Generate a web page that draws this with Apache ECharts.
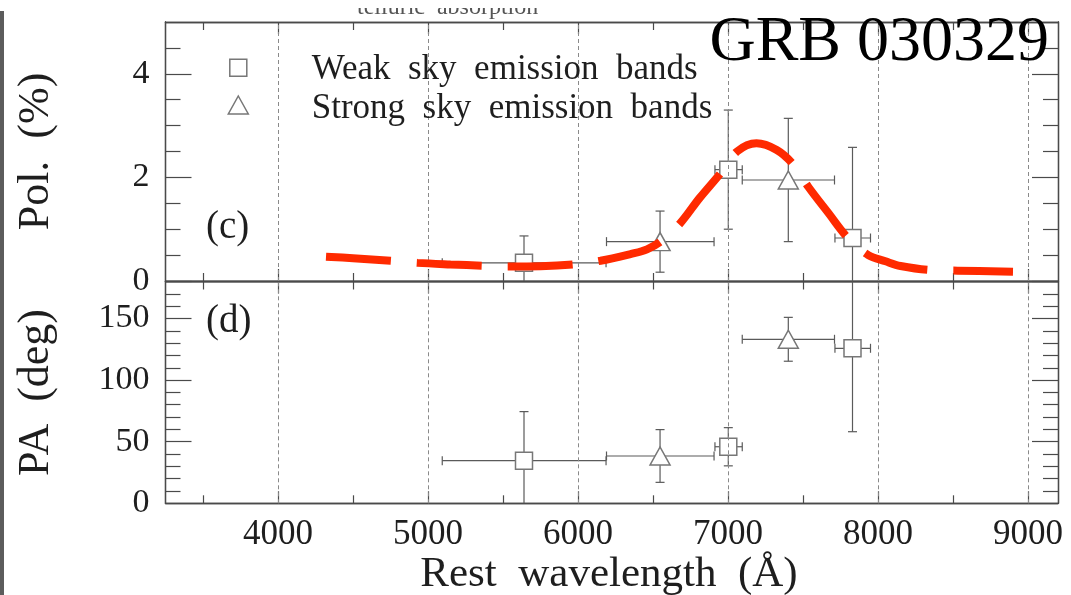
<!DOCTYPE html>
<html>
<head>
<meta charset="utf-8">
<title>GRB 030329 polarization</title>
<script src="https://cdn.jsdelivr.net/npm/echarts@6/dist/echarts.min.js"></script>
<style>
  html, body { margin: 0; padding: 0; background: #fff; }
  #chart { width: 1071px; height: 595px; }
</style>
</head>
<body>
<div id="chart"></div>
<script>
// ---- Data -------------------------------------------------------------
// Tick values
const wlMajorTicks = [4000, 5000, 6000, 7000, 8000, 9000];
const wlMinorTicks = [3500, 4500, 5500, 6500, 7500, 8500];
const polLabelTicks = [0, 2, 4];
const polMinorTicks = [0.5, 1, 1.5, 2.5, 3, 3.5, 4.5];
const paLabelTicks = [0, 50, 100, 150];
const paMajorTicks = [50, 100, 150];
const paMinorTicks = [10, 20, 30, 40, 60, 70, 80, 90, 110, 120, 130, 140, 160, 170];

// Weak sky emission bands (squares)
const weakWl = [5640, 7002, 7830];
const weakWlLo = [5095, 6913, 7713];
const weakWlHi = [6187, 7095, 7950];
const weakPol = [0.35, 2.15, 0.83];
const weakPolErr = [0.52, 1.15, 1.75];
const weakPA = [34.6, 45.9, 125.8];
const weakPAErr = [39.8, 15.5, 67.7];

// Strong sky emission bands (triangles)
const strongWl = [6547, 7402];
const strongWlLo = [6190, 7095];
const strongWlHi = [6907, 7710];
const strongPol = [0.76, 1.95];
const strongPolErr = [0.59, 1.19];
const strongPA = [38.4, 133.1];
const strongPAErr = [21.4, 17.8];

// Model polarization curve
const curveWl = [4320, 4500, 4750, 4930, 5150, 5365, 5535, 5750, 5970, 6150, 6350, 6460, 6560, 6680,
                 6810, 6950, 7060, 7190, 7325, 7435, 7535, 7670, 7800, 7935, 8050, 8150, 8360, 8530, 8900];
const curvePol = [0.47, 0.44, 0.39, 0.35, 0.32, 0.296, 0.28, 0.285, 0.32, 0.39, 0.52, 0.61, 0.78, 1.11,
                  1.60, 2.08, 2.50, 2.66, 2.53, 2.25, 1.82, 1.31, 0.83, 0.50, 0.38, 0.29, 0.21, 0.20, 0.18];

// ---- Styling ----------------------------------------------------------
const SERIF = '"Liberation Serif", "DejaVu Serif", serif';
const AXIS = '#4a4a4a';
const TEXT = '#1e1e1e';
const BAR = '#5a5a5a';
const MARK_EDGE = '#777';
const WL_MIN = 3250, WL_MAX = 9200;

const grids = [
  { left: 165.5, top: 22, width: 892.5, height: 259, outerBoundsMode: 'none' },
  { left: 165.5, top: 281.5, width: 892.5, height: 221.8, outerBoundsMode: 'none' }
];

function xAxis(gridIndex, position, ticks, len, labels) {
  return {
    type: 'value', gridIndex, position, min: WL_MIN, max: WL_MAX,
    axisLine: { show: true, onZero: false, lineStyle: { color: AXIS, width: 1.3 } },
    axisTick: { show: true, inside: true, length: len, customValues: ticks,
                lineStyle: { color: AXIS, width: 1.2 } },
    axisLabel: labels
      ? { show: true, customValues: wlMajorTicks, margin: 14, fontFamily: SERIF, fontSize: 35,
          lineHeight: 35, color: TEXT, formatter: v => String(v) }
      : { show: false },
    splitLine: { show: false }
  };
}

function yAxis(gridIndex, position, min, max, ticks, len, labelValues) {
  return {
    type: 'value', gridIndex, position, min, max,
    axisLine: { show: true, onZero: false, lineStyle: { color: AXIS, width: 1.3 } },
    axisTick: { show: true, inside: true, length: len, customValues: ticks,
                lineStyle: { color: AXIS, width: 1.2 } },
    axisLabel: labelValues
      ? { show: true, customValues: labelValues, margin: 16, fontFamily: SERIF, fontSize: 34,
          color: TEXT, formatter: v => String(v) }
      : { show: false },
    splitLine: { show: false }
  };
}

const xAxes = [];
const yAxes = [];
// panel (c): polarization
xAxes.push(xAxis(0, 'bottom', wlMajorTicks, 12, false));
xAxes.push(xAxis(0, 'bottom', wlMinorTicks, 8, false));
xAxes.push(xAxis(0, 'top', wlMajorTicks, 12, false));
xAxes.push(xAxis(0, 'top', wlMinorTicks, 8, false));
yAxes.push(yAxis(0, 'left', 0, 5, polLabelTicks, 26, polLabelTicks));
yAxes.push(yAxis(0, 'left', 0, 5, polMinorTicks, 15, null));
yAxes.push(yAxis(0, 'right', 0, 5, polLabelTicks, 26, null));
yAxes.push(yAxis(0, 'right', 0, 5, polMinorTicks, 15, null));
// panel (d): position angle
xAxes.push(xAxis(1, 'bottom', wlMajorTicks, 12, true));
xAxes.push(xAxis(1, 'bottom', wlMinorTicks, 8, false));
xAxes.push(xAxis(1, 'top', wlMajorTicks, 12, false));
xAxes.push(xAxis(1, 'top', wlMinorTicks, 8, false));
yAxes.push(yAxis(1, 'left', 0, 180, paMajorTicks, 26, paLabelTicks));
yAxes.push(yAxis(1, 'left', 0, 180, paMinorTicks, 15, null));
yAxes.push(yAxis(1, 'right', 0, 180, paMajorTicks, 26, null));
yAxes.push(yAxis(1, 'right', 0, 180, paMinorTicks, 15, null));

// [x, y, xLow, xHigh, yErr]
function pack(xs, ys, lo, hi, err) {
  return xs.map((x, i) => [x, ys[i], lo[i], hi[i], err[i]]);
}

function errorBars(axisIndex, yLo, yHi, data) {
  const CAP = 4.5;
  return {
    type: 'custom', xAxisIndex: axisIndex, yAxisIndex: axisIndex, z: 3, silent: true,
    data,
    renderItem(params, api) {
      const x = api.value(0), y = api.value(1), xl = api.value(2), xh = api.value(3), e = api.value(4);
      const top = Math.min(y + e, yHi), bot = Math.max(y - e, yLo);
      const pl = api.coord([xl, y]), ph = api.coord([xh, y]);
      const pt = api.coord([x, top]), pb = api.coord([x, bot]);
      const st = { stroke: BAR, lineWidth: 1.2 };
      const seg = (x1, y1, x2, y2) => ({ type: 'line', shape: { x1, y1, x2, y2 }, style: st });
      const kids = [
        seg(pl[0], pl[1], ph[0], ph[1]),
        seg(pl[0], pl[1] - CAP, pl[0], pl[1] + CAP),
        seg(ph[0], ph[1] - CAP, ph[0], ph[1] + CAP),
        seg(pt[0], pt[1], pb[0], pb[1])
      ];
      if (y + e <= yHi) kids.push(seg(pt[0] - CAP, pt[1], pt[0] + CAP, pt[1]));
      if (y - e >= yLo) kids.push(seg(pb[0] - CAP, pb[1], pb[0] + CAP, pb[1]));
      return { type: 'group', children: kids };
    }
  };
}

function markers(axisIndex, symbol, size, data, name) {
  return {
    type: 'scatter', name, xAxisIndex: axisIndex, yAxisIndex: axisIndex, z: 4, silent: true,
    symbol, symbolSize: size, data: data.map(d => [d[0], d[1]]),
    itemStyle: { color: '#fff', borderColor: MARK_EDGE, borderWidth: 1.5, opacity: 1 }
  };
}

function gridLines(axisIndex) {
  return {
    type: 'line', xAxisIndex: axisIndex, yAxisIndex: axisIndex, data: [], z: 1, silent: true,
    markLine: {
      silent: true, symbol: 'none', label: { show: false }, animation: false,
      lineStyle: { color: '#8a8a8a', width: 1, type: [4, 3] },
      data: wlMajorTicks.map(v => ({ xAxis: v }))
    }
  };
}

const weakPolData = pack(weakWl, weakPol, weakWlLo, weakWlHi, weakPolErr);
const strongPolData = pack(strongWl, strongPol, strongWlLo, strongWlHi, strongPolErr);
const weakPAData = pack(weakWl, weakPA, weakWlLo, weakWlHi, weakPAErr);
const strongPAData = pack(strongWl, strongPA, strongWlLo, strongWlHi, strongPAErr);

const SQUARE = 17;
const TRIANGLE = [20, 18];

const series = [
  gridLines(0),
  gridLines(4),
  errorBars(0, 0, 5, weakPolData),
  errorBars(0, 0, 5, strongPolData),
  markers(0, 'rect', SQUARE, weakPolData, 'Weak sky emission bands'),
  markers(0, 'triangle', TRIANGLE, strongPolData, 'Strong sky emission bands'),
  errorBars(4, 0, 180, weakPAData),
  errorBars(4, 0, 180, strongPAData),
  markers(4, 'rect', SQUARE, weakPAData, 'Weak sky emission bands'),
  markers(4, 'triangle', TRIANGLE, strongPAData, 'Strong sky emission bands'),
  {
    type: 'line', xAxisIndex: 0, yAxisIndex: 0, z: 6, silent: true,
    data: curveWl.map((w, i) => [w, curvePol[i]]),
    showSymbol: false, smooth: 0.35,
    lineStyle: { color: '#ff2a00', width: 8, type: [65, 26], cap: 'butt' }
  }
];

const font = (size) => `${size}px ${SERIF}`;

const graphic = [
  // scanned page edge
  { type: 'rect', shape: { x: 0, y: 11, width: 4, height: 584 }, style: { fill: '#5c5c5c' }, z: 10 },
  // annotation clipped at the top edge
  { type: 'text', x: 357, y: 20, z: 10,
    style: { text: 'telluric  absorption', font: font(24), fill: '#555', align: 'left', verticalAlign: 'bottom' } },
  { type: 'rect', shape: { x: 300, y: 0, width: 300, height: 8 }, style: { fill: '#fff' }, z: 11 },
  // title
  { type: 'text', x: 1049, y: 43, z: 10,
    style: { text: 'GRB 030329', font: font(64), fill: '#000', align: 'right', verticalAlign: 'middle' } },
  // legend
  { type: 'rect', shape: { x: 238.3 - SQUARE / 2, y: 67.7 - SQUARE / 2, width: SQUARE, height: SQUARE },
    style: { fill: '#fff', stroke: MARK_EDGE, lineWidth: 1.5 }, z: 10 },
  { type: 'polygon', shape: { points: [[238.3, 96], [248.3, 114], [228.3, 114]] },
    style: { fill: '#fff', stroke: MARK_EDGE, lineWidth: 1.5 }, z: 10 },
  { type: 'text', x: 311.7, y: 70, z: 10,
    style: { text: 'Weak  sky  emission  bands', font: font(35), fill: TEXT, align: 'left', verticalAlign: 'middle' } },
  { type: 'text', x: 311.7, y: 108.5, z: 10,
    style: { text: 'Strong  sky  emission  bands', font: font(35), fill: TEXT, align: 'left', verticalAlign: 'middle' } },
  // panel tags
  { type: 'text', x: 206, y: 228, z: 10,
    style: { text: '(c)', font: font(39), fill: TEXT, align: 'left', verticalAlign: 'middle' } },
  { type: 'text', x: 206, y: 322, z: 10,
    style: { text: '(d)', font: font(39), fill: TEXT, align: 'left', verticalAlign: 'middle' } },
  // axis titles
  { type: 'text', x: 36, y: 151.5, rotation: Math.PI / 2, z: 10,
    style: { text: 'Pol.  (%)', font: font(44), fill: TEXT, align: 'center', verticalAlign: 'middle' } },
  { type: 'text', x: 36, y: 392.5, rotation: Math.PI / 2, z: 10,
    style: { text: 'PA  (deg)', font: font(44), fill: TEXT, align: 'center', verticalAlign: 'middle' } },
  { type: 'text', x: 609, y: 575, z: 10,
    style: { text: 'Rest  wavelength  (Å)', font: font(43), fill: TEXT, align: 'center', verticalAlign: 'middle' } }
];

const chart = echarts.init(document.getElementById('chart'), null, { renderer: 'canvas' });
chart.setOption({
  animation: false,
  backgroundColor: '#fff',
  grid: grids,
  xAxis: xAxes,
  yAxis: yAxes,
  series,
  graphic
});
</script>
</body>
</html>
